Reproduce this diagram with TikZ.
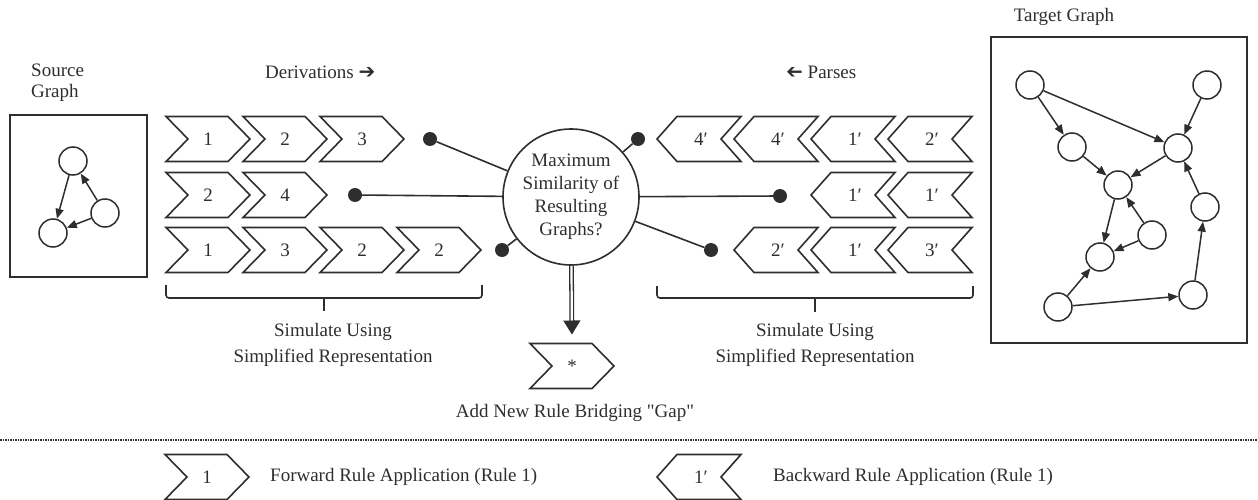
\documentclass[tikz,border=0pt]{standalone}
\usepackage{fontspec}
\usepackage{graphicx}
\setmainfont{Liberation Serif}
\newfontfamily\plainserif{Liberation Serif}
\newfontfamily\dejavu{DejaVu Sans}
\usetikzlibrary{arrows.meta}
\definecolor{ink}{gray}{0.18}
\begin{document}
\begin{tikzpicture}[x=1pt,y=-1pt, line join=miter,
  every node/.style={inner sep=0pt, text=ink, font=\fontsize{19}{22}\selectfont},
  chev/.style={draw=ink, line width=1.6pt, line join=miter},
  dot/.style={circle, fill=ink, minimum size=14pt},
  gnode/.style={circle, draw=ink, line width=1.5pt, minimum size=28pt},
  gedge/.style={draw=ink, line width=1.5pt, -{Triangle[length=10pt,width=8pt]}},
  link/.style={draw=ink, line width=1.6pt},
  brace/.style={draw=ink, line width=1.6pt, rounded corners=3pt},
  gbox/.style={draw=ink, line width=1.6pt},
  pics/fwd/.style={code={
     \draw[chev] (-42,-22.5) -- (20,-22.5) -- (42,0) -- (20,22.5) -- (-42,22.5) -- (-20,0) -- cycle;
     \coordinate (-n) at (0,-22.5);
     \node (-t) at (0,0) {#1};}},
  pics/bwd/.style={code={
     \draw[chev] (-22,-22.5) -- (42,-22.5) -- (22,0) -- (42,22.5) -- (-22,22.5) -- (-42,0) -- cycle;
     \node (-t) at (2,0) {#1};}},
]
\path[use as bounding box] (0,0) rectangle (1258,500);

% headings
\node[anchor=west, align=left, font=\fontsize{19}{21.5}\selectfont] (srclbl) at (31,82.5) {Source\\Graph};
\node[anchor=west] (derlbl) at (265,72) {Derivations {\dejavu\fontsize{20}{20}\selectfont ➔}};
\node[anchor=west] (parlbl) at (786,72) {{\dejavu\fontsize{20}{20}\selectfont\reflectbox{➔}} Parses};
\node (tgtlbl) at (1064,17) {Target Graph};

% source graph
\node[gbox, minimum width=137pt, minimum height=162pt] (sbox) at (78.5,196) {};
\node[gnode] (s1) at (73,161) {};
\node[gnode] (s2) at (53,233) {};
\node[gnode] (s3) at (105,213) {};
\draw[gedge] (s1) -- (s2);
\draw[gedge] (s3) -- (s1);
\draw[gedge] (s3) -- (s2);

% target graph
\node[gbox, minimum width=256pt, minimum height=306pt] (tbox) at (1119,190) {};
\node[gnode] (ta) at (1030,85) {};
\node[gnode] (tb) at (1207,85) {};
\node[gnode] (tc) at (1072,147) {};
\node[gnode] (td) at (1178,148) {};
\node[gnode] (te) at (1118,185) {};
\node[gnode] (tf) at (1205,207) {};
\node[gnode] (tg) at (1152,235) {};
\node[gnode] (th) at (1100,257) {};
\node[gnode] (ti) at (1058,307) {};
\node[gnode] (tj) at (1193,295) {};
\draw[gedge] (ta) -- (tc);
\draw[gedge] (ta) -- (td);
\draw[gedge] (tb) -- (td);
\draw[gedge] (tc) -- (te);
\draw[gedge] (td) -- (te);
\draw[gedge] (te) -- (th);
\draw[gedge] (tg) -- (te);
\draw[gedge] (tg) -- (th);
\draw[gedge] (ti) -- (th);
\draw[gedge] (ti) -- (tj);
\draw[gedge] (tj) -- (tf);
\draw[gedge] (tf) -- (td);

% forward derivations
\pic (f11) at (208,139) {fwd=1};
\pic (f12) at (285,139) {fwd=2};
\pic (f13) at (362,139) {fwd=3};
\pic (f21) at (208,195) {fwd=2};
\pic (f22) at (285,195) {fwd=4};
\pic (f31) at (208,250) {fwd=1};
\pic (f32) at (285,250) {fwd=3};
\pic (f33) at (362,250) {fwd=2};
\pic (f34) at (439,250) {fwd=2};

% backward parses
\pic (b11) at (699,139) {bwd=4′};
\pic (b12) at (776,139) {bwd=4′};
\pic (b13) at (853,139) {bwd=1′};
\pic (b14) at (930,139) {bwd=2′};
\pic (b21) at (853,195) {bwd=1′};
\pic (b22) at (930,195) {bwd=1′};
\pic (b31) at (776,250) {bwd=2′};
\pic (b32) at (853,250) {bwd=1′};
\pic (b33) at (930,250) {bwd=3′};

% central comparison
\node[circle, draw=ink, line width=1.6pt, minimum size=136pt, align=center,
      font=\fontsize{19}{23}\selectfont] (circ) at (571,197)
      {Maximum\\Similarity of\\Resulting\\Graphs?};
\node[dot] (dl1) at (430,139) {};
\node[dot] (dl2) at (355,195) {};
\node[dot] (dl3) at (502,250) {};
\node[dot] (dr1) at (638,139) {};
\node[dot] (dr2) at (780,196) {};
\node[dot] (dr3) at (711,250) {};
\foreach \d in {dl1,dl2,dl3,dr1,dr2,dr3} \draw[link] (\d) -- (circ);

% new rule
\pic (star) at (572,366) {fwd=*};
\draw[ink, line width=1.3pt, double, double distance=2.2pt,
      -{Triangle[length=14pt,width=17pt]}, shorten >=9pt] (circ) -- (star-n);
\node (addlbl) at (575,413) {Add New Rule Bridging {\plainserif "}Gap{\plainserif "}};

% braces
\draw[brace] (166,285) -- (166,298) -- (482,298) -- (482,285);
\coordinate (lbr) at (324,298);
\coordinate (lbrt) at (324,311);
\draw[link] (lbr) -- (lbrt);
\node[align=center, font=\fontsize{19}{26}\selectfont] (lsim) at (333,345) {Simulate Using\\Simplified Representation};
\draw[brace] (657,286) -- (657,298) -- (973,298) -- (973,286);
\coordinate (rbr) at (815,298);
\coordinate (rbrt) at (815,312);
\draw[link] (rbr) -- (rbrt);
\node[align=center, font=\fontsize{19}{26}\selectfont] (rsim) at (815,345) {Simulate Using\\Simplified Representation};

% separator
\coordinate (sepl) at (0,440);
\coordinate (sepr) at (1258,440);
\draw[ink, line width=1.2pt, dash pattern=on 1.5pt off 1pt] (sepl) -- (sepr);

% legend
\pic (lf) at (207,477) {fwd=1};
\node[anchor=west] (lftxt) at (270,477) {Forward Rule Application (Rule 1)};
\pic (lb) at (699,477) {bwd=1′};
\node[anchor=west] (lbtxt) at (773,477) {Backward Rule Application (Rule 1)};
\end{tikzpicture}
\end{document}
